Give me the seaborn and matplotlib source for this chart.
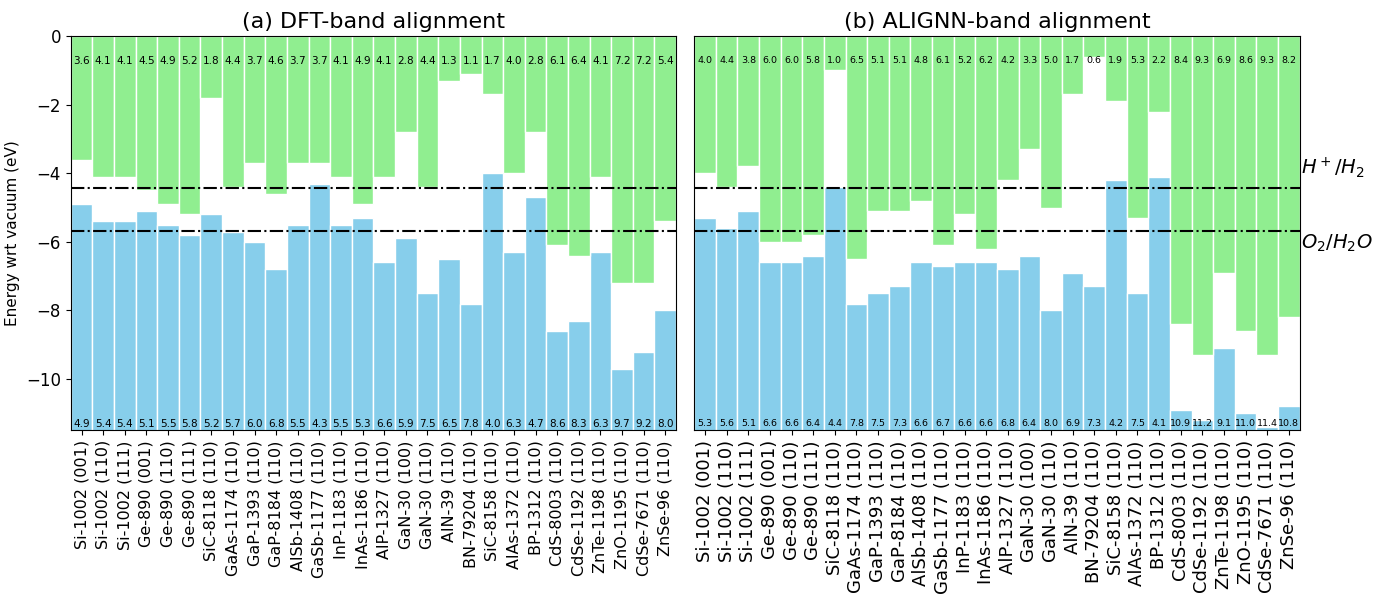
import pandas as pd
import matplotlib
matplotlib.use("Agg")
import matplotlib.pyplot as plt
import seaborn as sns

materials = [
    "Si-1002 (001)", "Si-1002 (110)", "Si-1002 (111)", "Ge-890 (001)", "Ge-890 (110)",
    "Ge-890 (111)", "SiC-8118 (110)", "GaAs-1174 (110)", "GaP-1393 (110)", "GaP-8184 (110)",
    "AlSb-1408 (110)", "GaSb-1177 (110)", "InP-1183 (110)", "InAs-1186 (110)", "AlP-1327 (110)",
    "GaN-30 (100)", "GaN-30 (110)", "AlN-39 (110)", "BN-79204 (110)", "SiC-8158 (110)",
    "AlAs-1372 (110)", "BP-1312 (110)", "CdS-8003 (110)", "CdSe-1192 (110)", "ZnTe-1198 (110)",
    "ZnO-1195 (110)", "CdSe-7671 (110)", "ZnSe-96 (110)",
]

dft_cbm = [3.6, 4.1, 4.1, 4.5, 4.9, 5.2, 1.8, 4.4, 3.7, 4.6, 3.7, 3.7, 4.1, 4.9,
           4.1, 2.8, 4.4, 1.3, 1.1, 1.7, 4.0, 2.8, 6.1, 6.4, 4.1, 7.2, 7.2, 5.4]
dft_vbm = [4.9, 5.4, 5.4, 5.1, 5.5, 5.8, 5.2, 5.7, 6.0, 6.8, 5.5, 4.3, 5.5, 5.3,
           6.6, 5.9, 7.5, 6.5, 7.8, 4.0, 6.3, 4.7, 8.6, 8.3, 6.3, 9.7, 9.2, 8.0]
alignn_cbm = [4.0, 4.4, 3.8, 6.0, 6.0, 5.8, 1.0, 6.5, 5.1, 5.1, 4.8, 6.1, 5.2, 6.2,
              4.2, 3.3, 5.0, 1.7, 0.6, 1.9, 5.3, 2.2, 8.4, 9.3, 6.9, 8.6, 9.3, 8.2]
alignn_vbm = [5.3, 5.6, 5.1, 6.6, 6.6, 6.4, 4.4, 7.8, 7.5, 7.3, 6.6, 6.7, 6.6, 6.6,
              6.8, 6.4, 8.0, 6.9, 7.3, 4.2, 7.5, 4.1, 10.9, 11.2, 9.1, 11.0, 11.4, 10.8]

h_level = -4.44
o_level = -5.67
y_bottom = -11.5
bar_floor = -12.0


def draw_panel(ax, cbm, vbm, title, label_size, tick_size):
    df = pd.DataFrame({"material": materials, "cbm": cbm, "vbm": vbm})
    df["cb"] = -df["cbm"]
    df["vb_height"] = bar_floor + df["vbm"]
    df["vb_top"] = -df["vbm"]

    sns.barplot(data=df, x="material", y="vb_height", bottom=df["vb_top"].values,
                color="skyblue", saturation=1, width=1, edgecolor="white",
                linewidth=1, ax=ax, errorbar=None)
    sns.barplot(data=df, x="material", y="cb", color="lightgreen", saturation=1,
                width=1, edgecolor="white", linewidth=1, ax=ax, errorbar=None)

    for i, (c, v) in enumerate(zip(cbm, vbm)):
        ax.text(i, -0.72, f"{c:.1f}", ha="center", va="center", fontsize=label_size)
        ax.text(i, -11.3, f"{v:.1f}", ha="center", va="center", fontsize=label_size)

    ax.axhline(h_level, color="black", linestyle="-.", linewidth=1.5)
    ax.axhline(o_level, color="black", linestyle="-.", linewidth=1.5)
    ax.set_ylim(y_bottom, 0)
    ax.set_xlim(-0.5, len(materials) - 0.5)
    ax.set_title(title, fontsize=16)
    ax.set_xlabel("")
    ax.set_ylabel("")
    ax.tick_params(axis="x", labelrotation=90, labelsize=tick_size)


fig, axes = plt.subplots(1, 2, figsize=(13.87, 6.02))
fig.subplots_adjust(left=0.051, right=0.937, top=0.94, bottom=0.285, wspace=0.03)

draw_panel(axes[0], dft_cbm, dft_vbm, "(a) DFT-band alignment", 7.5, 11.5)
draw_panel(axes[1], alignn_cbm, alignn_vbm, "(b) ALIGNN-band alignment", 6.8, 13)

axes[0].set_ylabel("Energy wrt vacuum (eV)", fontsize=11)
axes[0].tick_params(axis="y", labelsize=12)
axes[1].set_yticks([])

axes[1].text(1.003, -3.85, r"$H^+/H_2$", transform=axes[1].get_yaxis_transform(),
             fontsize=14, va="center", ha="left")
axes[1].text(1.003, -6.05, r"$O_2/H_2O$", transform=axes[1].get_yaxis_transform(),
             fontsize=14, va="center", ha="left")

fig.savefig("out.png", dpi=100)
